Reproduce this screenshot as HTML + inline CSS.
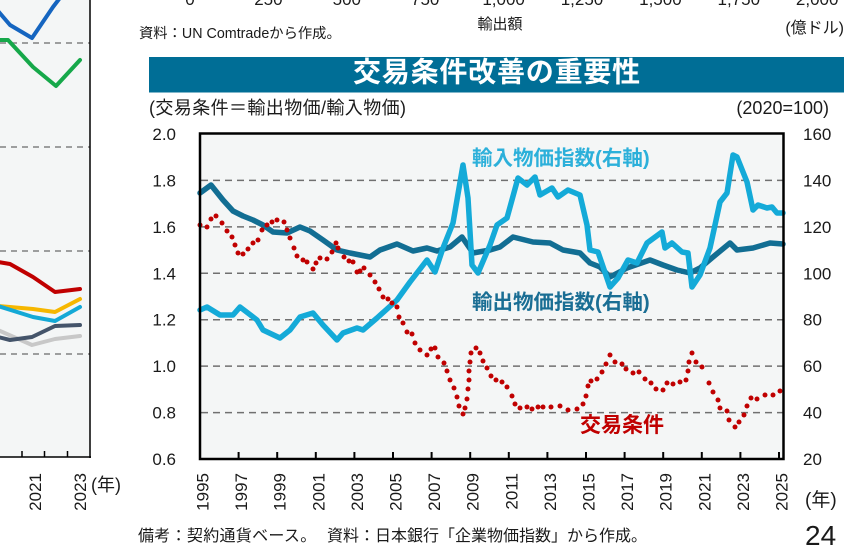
<!DOCTYPE html>
<html lang="ja">
<head>
<meta charset="utf-8">
<style>
  html, body { margin: 0; padding: 0; background: #ffffff; }
  svg { display: block; }
  text { font-family: "Liberation Sans", "Noto Sans CJK JP", sans-serif; fill: #1a1a1a; }
</style>
</head>
<body>
<svg width="865" height="555" viewBox="0 0 865 555" xmlns="http://www.w3.org/2000/svg">
  <!-- ===== Left partial panel ===== -->
  <rect x="0" y="0" width="90" height="457" fill="#f4f6f6"/>
  <g stroke="#808080" stroke-width="1.5" stroke-dasharray="6 5" fill="none">
    <line x1="0" y1="43" x2="90" y2="43"/>
    <line x1="0" y1="147" x2="90" y2="147"/>
    <line x1="0" y1="251" x2="90" y2="251"/>
    <line x1="0" y1="354" x2="90" y2="354"/>
  </g>
  <g fill="none" stroke-width="4" stroke-linejoin="round" stroke-linecap="round">
    <polyline stroke="#1565c0" points="-2,11 10,25 32,38 53,7 66,-10"/>
    <polyline stroke="#16a84a" points="-2,40 8,40 33,67 56,86 80,60"/>
    <polyline stroke="#c00000" points="-2,262 10,264 33,277 55,292 80,289"/>
    <polyline stroke="#c8c8c8" points="-2,330 32,345 55,339 80,336"/>
    <polyline stroke="#f6b700" points="-2,306 33,309 55,312 80,299"/>
    <polyline stroke="#14a9d6" points="-2,306 33,317 55,321 80,307"/>
    <polyline stroke="#44546a" points="-2,337 10,340 32,337 55,326 80,325"/>
  </g>
  <g stroke="#000" stroke-width="1.5">
    <line x1="90" y1="0" x2="90" y2="458"/>
    <line x1="0" y1="457" x2="91" y2="457"/>
    <line x1="22" y1="451" x2="22" y2="457"/>
    <line x1="44.5" y1="451" x2="44.5" y2="457"/>
    <line x1="67.5" y1="451" x2="67.5" y2="457"/>
  </g>
  <text transform="translate(41,473) rotate(-90)" text-anchor="end" font-size="17">2021</text>
  <text transform="translate(86,473) rotate(-90)" text-anchor="end" font-size="17">2023</text>
  <text x="91" y="491" font-size="18">(年)</text>

  <!-- ===== Top strip (previous chart remnants) ===== -->
  <g font-size="17" text-anchor="middle">
    <text x="190" y="5">0</text>
    <text x="268.4" y="5">250</text>
    <text x="346.8" y="5">500</text>
    <text x="425.2" y="5">750</text>
    <text x="503.6" y="5">1,000</text>
    <text x="582" y="5">1,250</text>
    <text x="660.4" y="5">1,500</text>
    <text x="738.8" y="5">1,750</text>
    <text x="817.2" y="5">2,000</text>
  </g>
  <text x="500" y="29" font-size="15" text-anchor="middle" fill="#333">輸出額</text>
  <text x="844" y="33" font-size="16" text-anchor="end">(億ドル)</text>
  <text x="139" y="38" font-size="14.3">資料：UN Comtradeから作成。</text>

  <!-- ===== Title bar ===== -->
  <rect x="149" y="57" width="695" height="35.5" fill="#006e96"/>
  <text x="497" y="81.5" font-size="28" font-weight="bold" text-anchor="middle" style="fill:#ffffff" letter-spacing="0.8">交易条件改善の重要性</text>

  <text x="149" y="114" font-size="18" letter-spacing="0.4">(交易条件＝輸出物価/輸入物価)</text>
  <text x="829" y="114" font-size="18" text-anchor="end">(2020=100)</text>

  <!-- ===== Main chart ===== -->
  <rect x="200" y="133.5" width="583.5" height="325.5" fill="#f4f6f6"/>
  <g stroke="#707070" stroke-width="1.5" stroke-dasharray="7 5" fill="none">
    <line x1="201" y1="180.4" x2="783" y2="180.4"/>
    <line x1="201" y1="226.9" x2="783" y2="226.9"/>
    <line x1="201" y1="273.3" x2="783" y2="273.3"/>
    <line x1="201" y1="319.7" x2="783" y2="319.7"/>
    <line x1="201" y1="366.1" x2="783" y2="366.1"/>
    <line x1="201" y1="412.6" x2="783" y2="412.6"/>
  </g>

  <!-- Export price index -->
  <polyline fill="none" stroke="#126e93" stroke-width="5.5" stroke-linejoin="round" stroke-linecap="round"
    points="200,193 211,185 223,200 233,211 243,216 253,220 263,225 273,232 287,233 300,227 310,231 323,240 337,250 350,253 370,257 380,250 397,244 413,251 427,248 437,251 450,247 462,237 473,253 490,250 500,247 513,237 533,242 550,243 563,250 580,253 590,263 600,267 610,277 627,268 650,260 663,265 677,270 690,273 700,268 713,257 730,243 737,250 753,248 770,243 783,244"/>

  <!-- Import price index -->
  <polyline fill="none" stroke="#14aad8" stroke-width="5.5" stroke-linejoin="round" stroke-linecap="round"
    points="200,310 207,307 220,315 233,315 240,307 257,320 263,330 280,338 290,330 300,317 313,313 323,325 337,340 343,333 357,328 363,330 377,318 397,300 410,282 427,260 435,272 443,248 453,223 463,165 468,198 472,265 478,273 490,245 497,225 507,218 518,178 527,185 535,177 540,195 552,188 558,197 568,190 580,195 587,225 590,250 598,252 610,287 618,278 628,260 637,263 647,243 662,232 665,248 672,243 682,252 688,253 692,287 700,275 710,248 720,202 727,193 733,155 737,157 747,182 753,210 758,205 767,208 772,207 777,213 783,213"/>

  <!-- Terms of trade (dotted) -->
  <g fill="#c00000">
    <circle cx="200" cy="225" r="2.5"/><circle cx="207" cy="227" r="2.5"/><circle cx="211" cy="219" r="2.5"/><circle cx="216" cy="216" r="2.5"/><circle cx="222" cy="223" r="2.5"/><circle cx="227" cy="231" r="2.5"/><circle cx="232" cy="237" r="2.5"/><circle cx="235" cy="245" r="2.5"/><circle cx="238" cy="253" r="2.5"/><circle cx="243" cy="254" r="2.5"/><circle cx="248" cy="249" r="2.5"/><circle cx="253" cy="243" r="2.5"/><circle cx="258" cy="240" r="2.5"/><circle cx="262" cy="230" r="2.5"/><circle cx="267" cy="225" r="2.5"/><circle cx="272" cy="222" r="2.5"/><circle cx="277" cy="220" r="2.5"/><circle cx="284" cy="222" r="2.5"/><circle cx="287" cy="230" r="2.5"/><circle cx="290" cy="238" r="2.5"/><circle cx="294" cy="248" r="2.5"/><circle cx="297" cy="256" r="2.5"/><circle cx="303" cy="260" r="2.5"/><circle cx="307" cy="262" r="2.5"/><circle cx="313" cy="269" r="2.5"/><circle cx="316" cy="263" r="2.5"/><circle cx="320" cy="258" r="2.5"/><circle cx="327" cy="259" r="2.5"/><circle cx="332" cy="252" r="2.5"/><circle cx="336" cy="243" r="2.5"/><circle cx="338" cy="248" r="2.5"/><circle cx="344" cy="257" r="2.5"/><circle cx="349" cy="261" r="2.5"/><circle cx="353" cy="262" r="2.5"/><circle cx="357" cy="272" r="2.5"/><circle cx="360" cy="271" r="2.5"/><circle cx="364" cy="268" r="2.5"/><circle cx="370" cy="275" r="2.5"/><circle cx="375" cy="282" r="2.5"/><circle cx="379" cy="289" r="2.5"/><circle cx="383" cy="297" r="2.5"/><circle cx="388" cy="299" r="2.5"/><circle cx="392" cy="303" r="2.5"/><circle cx="397" cy="307" r="2.5"/><circle cx="399" cy="317" r="2.5"/><circle cx="403" cy="323" r="2.5"/><circle cx="407" cy="332" r="2.5"/><circle cx="412" cy="334" r="2.5"/><circle cx="415" cy="343" r="2.5"/><circle cx="420" cy="350" r="2.5"/><circle cx="427" cy="355" r="2.5"/><circle cx="431" cy="349" r="2.5"/><circle cx="435" cy="348" r="2.5"/><circle cx="438" cy="357" r="2.5"/><circle cx="444" cy="363" r="2.5"/><circle cx="447" cy="371" r="2.5"/><circle cx="450" cy="380" r="2.5"/><circle cx="454" cy="388" r="2.5"/><circle cx="457" cy="397" r="2.5"/><circle cx="459" cy="406" r="2.5"/><circle cx="463" cy="414" r="2.5"/><circle cx="465" cy="408" r="2.5"/><circle cx="467" cy="399" r="2.5"/><circle cx="468" cy="389" r="2.5"/><circle cx="469" cy="380" r="2.5"/><circle cx="469" cy="371" r="2.5"/><circle cx="470" cy="362" r="2.5"/><circle cx="471" cy="353" r="2.5"/><circle cx="476" cy="348" r="2.5"/><circle cx="480" cy="353" r="2.5"/><circle cx="483" cy="361" r="2.5"/><circle cx="487" cy="368" r="2.5"/><circle cx="491" cy="376" r="2.5"/><circle cx="496" cy="380" r="2.5"/><circle cx="502" cy="382" r="2.5"/><circle cx="507" cy="387" r="2.5"/><circle cx="512" cy="396" r="2.5"/><circle cx="515" cy="404" r="2.5"/><circle cx="520" cy="408" r="2.5"/><circle cx="527" cy="407" r="2.5"/><circle cx="532" cy="409" r="2.5"/><circle cx="538" cy="407" r="2.5"/><circle cx="543" cy="407" r="2.5"/><circle cx="551" cy="407" r="2.5"/><circle cx="560" cy="406" r="2.5"/><circle cx="568" cy="410" r="2.5"/><circle cx="577" cy="409" r="2.5"/><circle cx="583" cy="404" r="2.5"/><circle cx="586" cy="396" r="2.5"/><circle cx="588" cy="386" r="2.5"/><circle cx="591" cy="381" r="2.5"/><circle cx="597" cy="379" r="2.5"/><circle cx="602" cy="372" r="2.5"/><circle cx="606" cy="364" r="2.5"/><circle cx="610" cy="355" r="2.5"/><circle cx="615" cy="362" r="2.5"/><circle cx="622" cy="364" r="2.5"/><circle cx="626" cy="369" r="2.5"/><circle cx="633" cy="373" r="2.5"/><circle cx="639" cy="372" r="2.5"/><circle cx="645" cy="379" r="2.5"/><circle cx="651" cy="383" r="2.5"/><circle cx="656" cy="389" r="2.5"/><circle cx="663" cy="390" r="2.5"/><circle cx="667" cy="383" r="2.5"/><circle cx="673" cy="384" r="2.5"/><circle cx="680" cy="382" r="2.5"/><circle cx="686" cy="380" r="2.5"/><circle cx="688" cy="371" r="2.5"/><circle cx="689" cy="362" r="2.5"/><circle cx="692" cy="353" r="2.5"/><circle cx="696" cy="362" r="2.5"/><circle cx="702" cy="367" r="2.5"/><circle cx="709" cy="383" r="2.5"/><circle cx="713" cy="392" r="2.5"/><circle cx="718" cy="400" r="2.5"/><circle cx="720" cy="408" r="2.5"/><circle cx="727" cy="411" r="2.5"/><circle cx="729" cy="420" r="2.5"/><circle cx="735" cy="427" r="2.5"/><circle cx="739" cy="422" r="2.5"/><circle cx="744" cy="415" r="2.5"/><circle cx="747" cy="406" r="2.5"/><circle cx="751" cy="398" r="2.5"/><circle cx="757" cy="399" r="2.5"/><circle cx="765" cy="395" r="2.5"/><circle cx="773" cy="395" r="2.5"/><circle cx="780" cy="391" r="2.5"/>
  </g>

  <!-- Series labels -->
  <text x="472" y="165" font-size="20.5" font-weight="bold" style="fill:#2cb0da">輸入物価指数(右軸)</text>
  <text x="472" y="309" font-size="20.5" font-weight="bold" style="fill:#1a6e94">輸出物価指数(右軸)</text>
  <text x="580" y="432" font-size="21" font-weight="bold" style="fill:#c00000">交易条件</text>

  <!-- Frame -->
  <rect x="200" y="133.5" width="583.5" height="325.5" fill="none" stroke="#000" stroke-width="2.5"/>

  <!-- X ticks -->
  <g stroke="#000" stroke-width="2">
    <line x1="238.6" y1="452" x2="238.6" y2="459"/>
    <line x1="277.2" y1="452" x2="277.2" y2="459"/>
    <line x1="315.8" y1="452" x2="315.8" y2="459"/>
    <line x1="354.4" y1="452" x2="354.4" y2="459"/>
    <line x1="393" y1="452" x2="393" y2="459"/>
    <line x1="431.6" y1="452" x2="431.6" y2="459"/>
    <line x1="470.2" y1="452" x2="470.2" y2="459"/>
    <line x1="508.8" y1="452" x2="508.8" y2="459"/>
    <line x1="547.4" y1="452" x2="547.4" y2="459"/>
    <line x1="586" y1="452" x2="586" y2="459"/>
    <line x1="624.6" y1="452" x2="624.6" y2="459"/>
    <line x1="663.2" y1="452" x2="663.2" y2="459"/>
    <line x1="701.8" y1="452" x2="701.8" y2="459"/>
    <line x1="740.4" y1="452" x2="740.4" y2="459"/>
    <line x1="779" y1="452" x2="779" y2="459"/>
  </g>

  <!-- X labels -->
  <g font-size="17" text-anchor="end">
    <text transform="translate(208.5,473) rotate(-90)">1995</text>
    <text transform="translate(247.1,473) rotate(-90)">1997</text>
    <text transform="translate(285.7,473) rotate(-90)">1999</text>
    <text transform="translate(324.3,473) rotate(-90)">2001</text>
    <text transform="translate(362.9,473) rotate(-90)">2003</text>
    <text transform="translate(401.5,473) rotate(-90)">2005</text>
    <text transform="translate(440.1,473) rotate(-90)">2007</text>
    <text transform="translate(478.7,473) rotate(-90)">2009</text>
    <text transform="translate(517.3,473) rotate(-90)">2011</text>
    <text transform="translate(555.9,473) rotate(-90)">2013</text>
    <text transform="translate(594.5,473) rotate(-90)">2015</text>
    <text transform="translate(633.1,473) rotate(-90)">2017</text>
    <text transform="translate(671.7,473) rotate(-90)">2019</text>
    <text transform="translate(710.3,473) rotate(-90)">2021</text>
    <text transform="translate(748.9,473) rotate(-90)">2023</text>
    <text transform="translate(787.5,473) rotate(-90)">2025</text>
  </g>

  <!-- Left Y labels -->
  <g font-size="17" text-anchor="end">
    <text x="176" y="140">2.0</text>
    <text x="176" y="186.4">1.8</text>
    <text x="176" y="232.9">1.6</text>
    <text x="176" y="279.3">1.4</text>
    <text x="176" y="325.7">1.2</text>
    <text x="176" y="372.1">1.0</text>
    <text x="176" y="418.6">0.8</text>
    <text x="176" y="465">0.6</text>
  </g>
  <!-- Right Y labels -->
  <g font-size="17">
    <text x="803" y="140">160</text>
    <text x="803" y="186.4">140</text>
    <text x="803" y="232.9">120</text>
    <text x="803" y="279.3">100</text>
    <text x="803" y="325.7">80</text>
    <text x="803" y="372.1">60</text>
    <text x="803" y="418.6">40</text>
    <text x="803" y="465">20</text>
  </g>

  <text x="805" y="506" font-size="19">(年)</text>
  <text x="805" y="545" font-size="28">24</text>

  <!-- Footer -->
  <text x="138" y="541" font-size="16" letter-spacing="0.3">備考：契約通貨ベース。</text>
  <text x="327" y="541" font-size="16">資料：日本銀行「企業物価指数」から作成。</text>
</svg>
</body>
</html>
